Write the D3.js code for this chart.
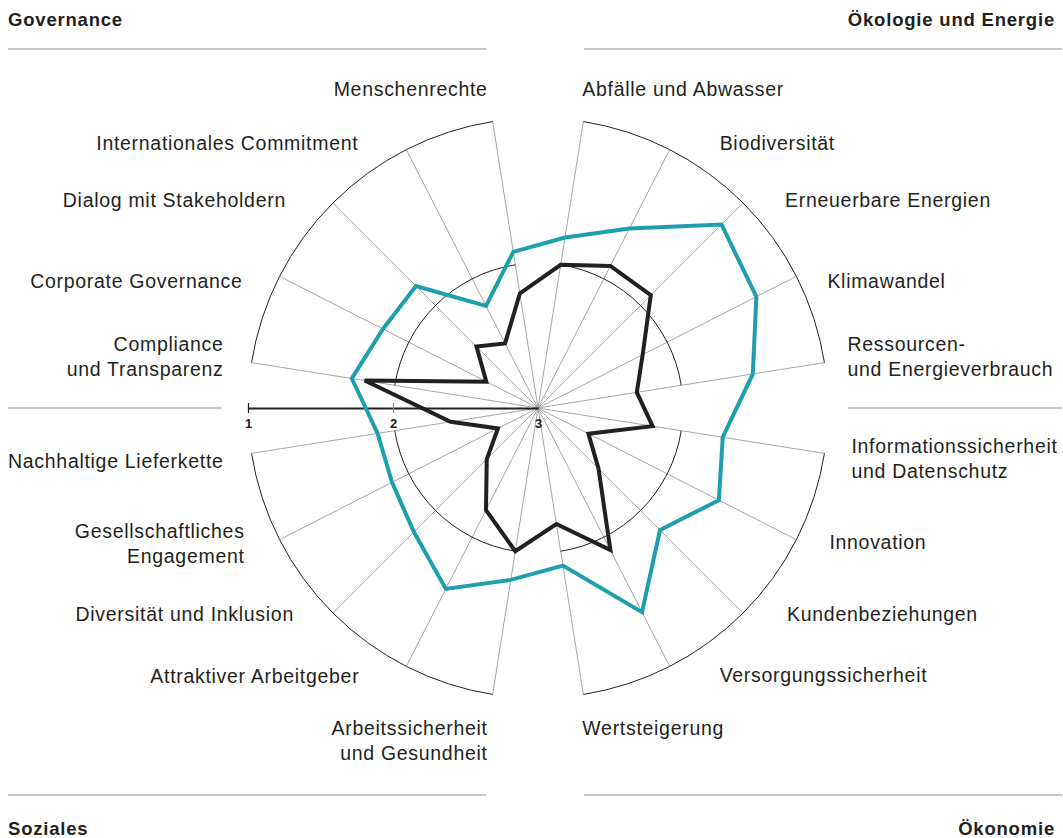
<!DOCTYPE html>
<html>
<head>
<meta charset="utf-8">
<script src="https://cdn.jsdelivr.net/npm/d3@7"></script>
<style>
  body { margin: 0; background: #fff; }
  svg { display: block; font-family: "Liberation Sans", Arial, sans-serif; }
</style>
</head>
<body>
<script>
// categories clockwise, starting just right of 12 o'clock
const categories = [
  'Abfälle und Abwasser', 'Biodiversität', 'Erneuerbare Energien', 'Klimawandel',
  'Ressourcen-\nund Energieverbrauch',
  'Informationssicherheit\nund Datenschutz', 'Innovation', 'Kundenbeziehungen',
  'Versorgungssicherheit', 'Wertsteigerung',
  'Arbeitssicherheit\nund Gesundheit', 'Attraktiver Arbeitgeber', 'Diversität und Inklusion',
  'Gesellschaftliches\nEngagement', 'Nachhaltige Lieferkette',
  'Compliance\nund Transparenz', 'Corporate Governance', 'Dialog mit Stakeholdern',
  'Internationales Commitment', 'Menschenrechte'
]
const groups = ['Ökologie und Energie', 'Ökonomie', 'Soziales', 'Governance']

// 1 = outer edge, 3 = centre
const tealValues = [1.81, 1.61, 1.21, 1.31, 1.50, 1.71, 1.60, 1.81, 1.42, 1.90,
  1.80, 1.60, 1.79, 1.87, 1.88, 1.70, 1.80, 1.81, 2.21, 1.91]
const blackValues = [2.00, 1.90, 1.90, 2.19, 2.31, 2.20, 2.61, 2.41, 1.90, 2.19,
  2.00, 2.21, 2.50, 2.69, 2.39, 1.79, 2.60, 2.40, 2.50, 2.20]
const tickValues = [1, 2, 3]

const WIDTH = 1063
const HEIGHT = 838
const CX = 538
const CY = 408
const RADIUS = 290
const TEAL = '#1d9fad'
const INK = '#231f20'

// label offsets from the spoke end [dx, dy of text block centre]
const labelOffsets = [
  [-1, -33], [50, -7], [42, -3], [31, 5], [23, -6],
  [27, 5], [33, 2], [44, 1], [50, 9], [-1, 34],
  [-5, 46], [-47, 10], [-39, 1], [-35, 4], [-28, 8],
  [-28, -6], [-37, 5], [-47, -3], [-48, -7], [-5, -33]
]

const angle = i => (9 + 18 * i) * Math.PI / 180
const r = d3.scaleLinear().domain([3, 1]).range([0, RADIUS])

const svg = d3.select('body').append('svg')
  .attr('width', WIDTH)
  .attr('height', HEIGHT)
  .attr('viewBox', `0 0 ${WIDTH} ${HEIGHT}`)

// headers + divider lines
const headers = [
  { text: groups[3], x: 8, y: 26, anchor: 'start' },
  { text: groups[0], x: 1055, y: 26, anchor: 'end' },
  { text: groups[2], x: 8, y: 835, anchor: 'start' },
  { text: groups[1], x: 1055, y: 835, anchor: 'end' }
]
svg.selectAll('text.header')
  .data(headers)
  .enter()
  .append('text')
  .attr('class', 'header')
  .attr('x', d => d.x)
  .attr('y', d => d.y)
  .attr('text-anchor', d => d.anchor)
  .attr('font-size', 18.5)
  .attr('font-weight', 'bold')
  .attr('letter-spacing', 0.8)
  .attr('fill', INK)
  .text(d => d.text)

const dividers = [
  [8, 486, 49], [584, 1062, 49],
  [8, 222, 408], [848, 1062, 408],
  [8, 486, 795], [584, 1062, 795]
]
svg.selectAll('line.divider')
  .data(dividers)
  .enter()
  .append('line')
  .attr('x1', d => d[0])
  .attr('x2', d => d[1])
  .attr('y1', d => d[2])
  .attr('y2', d => d[2])
  .attr('stroke', '#b5b5b5')
  .attr('stroke-width', 1.5)

const g = svg.append('g')
  .attr('transform', `translate(${CX}, ${CY})`)

// spokes
g.selectAll('line.spoke')
  .data(categories)
  .enter()
  .append('line')
  .attr('x1', 0)
  .attr('y1', 0)
  .attr('x2', (d, i) => Math.sin(angle(i)) * RADIUS)
  .attr('y2', (d, i) => -Math.cos(angle(i)) * RADIUS)
  .attr('stroke', '#8f8f8f')
  .attr('stroke-width', 0.8)

// quadrant arcs at value 1 and 2
const arcPath = (rad, q) => {
  const p = d3.path()
  const a0 = angle(q * 5) - Math.PI / 2
  const a1 = angle(q * 5 + 4) - Math.PI / 2
  p.moveTo(Math.cos(a0) * rad, Math.sin(a0) * rad)
  p.arc(0, 0, rad, a0, a1)
  return p.toString()
}
const rings = []
d3.range(4).forEach(q => { rings.push({ q, v: 1 }); rings.push({ q, v: 2 }) })
g.selectAll('path.ring')
  .data(rings)
  .enter()
  .append('path')
  .attr('d', d => arcPath(r(d.v), d.q))
  .attr('fill', 'none')
  .attr('stroke', INK)
  .attr('stroke-width', 1)

// axis
const xScale = d3.scaleLinear().domain([3, 1]).range([0, -RADIUS])
const axis = g.append('g')
  .call(d3.axisBottom(xScale)
    .tickValues(tickValues)
    .tickFormat(d3.format('d'))
    .tickSizeOuter(0)
    .tickSize(0)
    .tickPadding(0))
axis.select('.domain').attr('stroke', INK).attr('stroke-width', 2)
axis.selectAll('.tick line')
  .attr('y1', -5)
  .attr('y2', 5)
  .attr('stroke', (d) => d === 1 ? INK : '#8f8f8f')
  .attr('stroke-width', 1.2)
  .attr('opacity', d => d === 3 ? 0 : 1)
axis.selectAll('.tick text')
  .attr('y', 20)
  .attr('dy', 0)
  .attr('font-size', 13)
  .attr('font-weight', 'bold')
  .attr('font-family', '"Liberation Sans", Arial, sans-serif')
  .attr('fill', INK)

// series
const radar = d3.lineRadial()
  .angle((d, i) => angle(i))
  .radius(d => r(d))
  .curve(d3.curveLinearClosed)

g.append('path')
  .datum(tealValues)
  .attr('d', radar)
  .attr('fill', 'none')
  .attr('stroke', TEAL)
  .attr('stroke-width', 4)
  .attr('stroke-linejoin', 'miter')

g.append('path')
  .datum(blackValues)
  .attr('d', radar)
  .attr('fill', 'none')
  .attr('stroke', INK)
  .attr('stroke-width', 4)
  .attr('stroke-linejoin', 'miter')

// category labels
g.selectAll('text.label')
  .data(categories)
  .enter()
  .append('text')
  .attr('class', 'label')
  .attr('font-size', 19.5)
  .attr('letter-spacing', 0.7)
  .attr('fill', INK)
  .attr('text-anchor', (d, i) => Math.sin(angle(i)) > 0 ? 'start' : 'end')
  .each(function (d, i) {
    const ex = Math.sin(angle(i)) * RADIUS + labelOffsets[i][0]
    const ey = -Math.cos(angle(i)) * RADIUS + labelOffsets[i][1]
    const lines = d.split('\n')
    const top = ey - (lines.length - 1) * 12.5 + 7
    d3.select(this).selectAll('tspan')
      .data(lines)
      .enter()
      .append('tspan')
      .attr('x', ex)
      .attr('y', (l, k) => top + k * 25)
      .text(l => l)
  })
</script>
</body>
</html>
